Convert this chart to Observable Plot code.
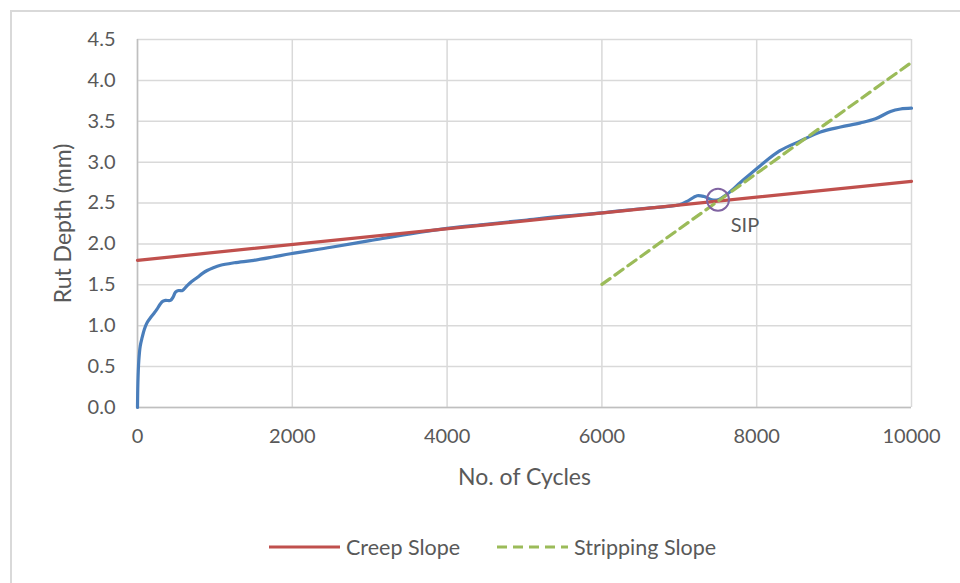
<!DOCTYPE html>
<html>
<head>
<meta charset="utf-8">
<script src="https://cdn.jsdelivr.net/npm/d3@7"></script>
<script src="https://cdn.jsdelivr.net/npm/@observablehq/plot@0.6"></script>
<style>
  body { margin: 0; background: #fff; font-family: Lato, "Noto Sans", sans-serif; }
  #wrap { position: relative; width: 960px; height: 583px; overflow: hidden; }
  #frame { position: absolute; left: 10px; top: 10px; width: 980px; height: 600px;
           border: 2px solid #d9d9d9; box-sizing: border-box; }
  #chart { position: absolute; left: 0; top: 0; }
  #legend { position: absolute; left: 269px; top: 535px; height: 24px; display: flex;
            align-items: center; font-size: 21.5px; color: #595959; white-space: nowrap; }
  #legend .item { display: flex; align-items: center; }
  #legend svg { display: block; margin-right: 6px; }
</style>
</head>
<body>
<div id="wrap">
  <div id="frame"></div>
  <div id="chart"></div>
  <div id="legend"></div>
</div>
<script>
// Measured rut depth vs. number of load cycles
const cycles = [0, 5, 17, 35, 61, 90, 125, 170, 211, 250, 297, 330, 362, 426, 460, 491, 530, 580, 642, 700,
  771, 840, 900, 980, 1072, 1250, 1503, 1750, 1977, 2500, 3000, 3500, 4000, 4500, 5000, 5500, 6000,
  6500, 7000, 7100, 7230, 7320, 7420, 7500, 7620, 7800, 8050, 8300, 8566, 8824, 9083, 9341, 9535,
  9729, 9858, 10000];
const rutDepth = [0, 0.3, 0.575, 0.75, 0.86, 0.96, 1.04, 1.10, 1.15, 1.20, 1.27, 1.30, 1.31, 1.31, 1.35,
  1.41, 1.43, 1.43, 1.49, 1.54, 1.59, 1.64, 1.675, 1.71, 1.74, 1.77, 1.80, 1.84, 1.88, 1.96, 2.04,
  2.12, 2.19, 2.24, 2.29, 2.34, 2.38, 2.43, 2.48, 2.52, 2.59, 2.58, 2.54, 2.54, 2.61, 2.76, 2.96,
  3.14, 3.26, 3.37, 3.43, 3.48, 3.53, 3.62, 3.65, 3.66];

// Fitted slopes (end points)
const creepX = [0, 10000];
const creepY = [1.80, 2.765];
const stripX = [6000, 10000];
const stripY = [1.505, 4.22];

// Stripping inflection point
const sipX = [7500];
const sipY = [2.54];
const sipLabel = ["SIP"];

const xTicks = [0, 2000, 4000, 6000, 8000, 10000];
const yTicks = [0, 0.5, 1, 1.5, 2, 2.5, 3, 3.5, 4, 4.5];

const xTitle = "No. of Cycles";
const yTitle = "Rut Depth (mm)";
const seriesNames = ["Creep Slope", "Stripping Slope"];
const seriesColors = ["#c0504d", "#9bbb59"];
const seriesDash = [null, "10,6"];

const curve = cycles.map((c, i) => ({x: c, y: rutDepth[i]}));
const creep = creepX.map((c, i) => ({x: c, y: creepY[i]}));
const strip = stripX.map((c, i) => ({x: c, y: stripY[i]}));
const sip = sipX.map((c, i) => ({x: c, y: sipY[i], label: sipLabel[i]}));

const textColor = "#595959";
const gridColor = "#d9d9d9";

const chart = Plot.plot({
  width: 960,
  height: 500,
  marginLeft: 137,
  marginRight: 49,
  marginTop: 39,
  marginBottom: 93,
  style: { fontFamily: "Lato, 'Noto Sans', sans-serif", fontSize: "20px", color: textColor, background: "transparent" },
  x: { domain: [0, 10000] },
  y: { domain: [0, 4.5] },
  marks: [
    Plot.gridX(xTicks, { stroke: gridColor, strokeOpacity: 1, strokeWidth: 1.5 }),
    Plot.gridY(yTicks, { stroke: gridColor, strokeOpacity: 1, strokeWidth: 1.5 }),
    Plot.ruleX([0], { stroke: "#bfbfbf", strokeWidth: 1.5 }),
    Plot.ruleY([0], { stroke: "#bfbfbf", strokeWidth: 1.5 }),
    Plot.axisX(xTicks, { tickSize: 0, tickPadding: 21, tickFormat: d => String(d), fill: textColor,
      fontSize: 20, label: null }),
    Plot.axisY(yTicks, { tickSize: 0, tickPadding: 22, tickFormat: d3.format(".1f"), fill: textColor,
      fontSize: 20, label: null }),
    // Axis titles
    Plot.text([xTitle], { frameAnchor: "bottom", dy: 77, text: d => d, fill: textColor, fontSize: 23 }),
    Plot.text([yTitle], { frameAnchor: "left", dx: -74, rotate: -90, textAnchor: "middle",
      text: d => d, fill: textColor, fontSize: 23 }),
    Plot.line(curve, { x: "x", y: "y", stroke: "#4a7ebb", strokeWidth: 3.2, curve: "catmull-rom" }),
    Plot.line(creep, { x: "x", y: "y", stroke: seriesColors[0], strokeWidth: 3.2 }),
    Plot.line(strip, { x: "x", y: "y", stroke: seriesColors[1], strokeWidth: 3.2, strokeDasharray: seriesDash[1] }),
    Plot.dot(sip, { x: "x", y: "y", r: 11, stroke: "#8064a2", strokeWidth: 2, fill: "none" }),
    Plot.text(sip, { x: "x", y: "y", text: "label", dx: 27, dy: 26, fill: textColor, fontSize: 20 })
  ]
});
document.getElementById("chart").appendChild(chart);

// Legend below the plot
const legend = document.getElementById("legend");
seriesNames.forEach((name, i) => {
  const item = document.createElement("div");
  item.className = "item";
  if (i > 0) item.style.marginLeft = "37px";
  const w = 71;
  item.innerHTML = `<svg width="${w}" height="6"><line x1="0" x2="${w}" y1="3" y2="3" stroke="${seriesColors[i]}" stroke-width="3.2" ${seriesDash[i] ? `stroke-dasharray="${seriesDash[i]}"` : ""}/></svg><span>${name}</span>`;
  legend.appendChild(item);
});
</script>
</body>
</html>
